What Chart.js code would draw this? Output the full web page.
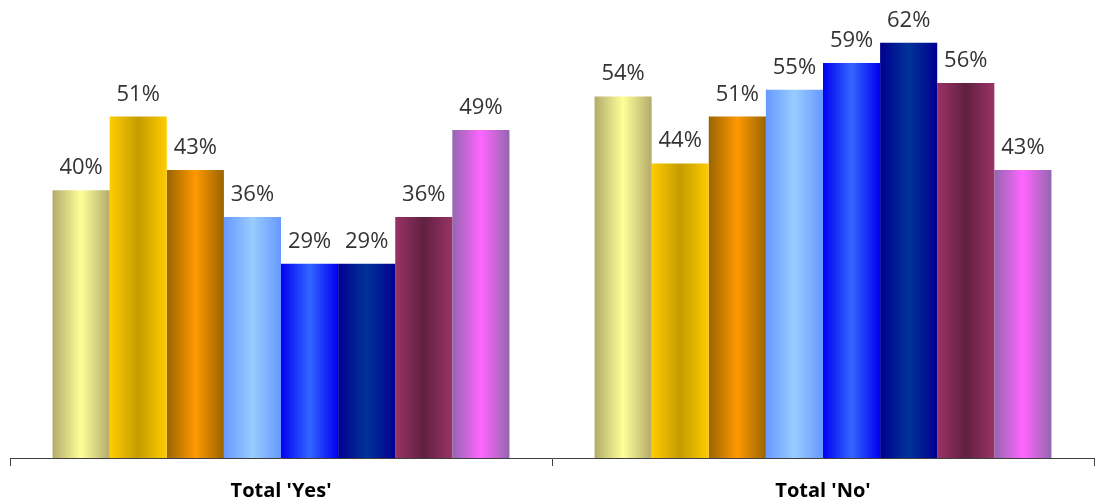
<!DOCTYPE html>
<html>
<head>
<meta charset="utf-8">
<script src="https://cdn.jsdelivr.net/npm/chart.js@4/dist/chart.umd.min.js"></script>
<style>
html,body{margin:0;padding:0;background:#fff;}
#wrap{width:1096px;height:504px;position:relative;}
</style>
</head>
<body>
<div id="wrap"><canvas id="c" width="1096" height="504"></canvas></div>
<script>
const categories = ["Total 'Yes'", "Total 'No'"];
const s1 = [40, 54];
const s2 = [51, 44];
const s3 = [43, 51];
const s4 = [36, 55];
const s5 = [29, 59];
const s6 = [29, 62];
const s7 = [36, 56];
const s8 = [49, 43];
const seriesValues = [s1, s2, s3, s4, s5, s6, s7, s8];
// [edge colour, centre colour] for horizontal gradient
const seriesColors = [
  ['#b3ab6b', '#ffff99'],
  ['#ffcc00', '#c49c00'],
  ['#9a6400', '#ff9900'],
  ['#6699ff', '#99ccff'],
  ['#0000f0', '#3366ff'],
  ['#00008f', '#003399'],
  ['#993366', '#612040'],
  ['#9466b0', '#ff66ff']
];

const gradientPlugin = {
  id: 'grad',
  beforeDatasetsDraw(chart) {
    const ctx = chart.ctx;
    chart.data.datasets.forEach((ds, di) => {
      const meta = chart.getDatasetMeta(di);
      const [edge, centre] = seriesColors[di];
      meta.data.forEach(el => {
        const w = el.width;
        const x0 = el.x - w / 2, x1 = el.x + w / 2;
        const g = ctx.createLinearGradient(x0, 0, x1, 0);
        g.addColorStop(0, edge);
        g.addColorStop(0.5, centre);
        g.addColorStop(1, edge);
        el.options = Object.assign({}, el.options, {backgroundColor: g});
      });
    });
  },
  afterDatasetsDraw(chart) {
    const ctx = chart.ctx;
    ctx.save();
    ctx.font = '22px "Open Sans", "DejaVu Sans", sans-serif';
    ctx.fillStyle = '#333333';
    ctx.textAlign = 'center';
    ctx.textBaseline = 'alphabetic';
    chart.data.datasets.forEach((ds, di) => {
      const meta = chart.getDatasetMeta(di);
      meta.data.forEach((el, i) => {
        ctx.fillText(ds.data[i] + '%', el.x, el.y - 16);
      });
    });
    ctx.restore();
  }
};

new Chart(document.getElementById('c'), {
  type: 'bar',
  data: {
    labels: categories,
    datasets: seriesValues.map((v, i) => ({
      label: 'S' + (i + 1),
      data: v,
      backgroundColor: seriesColors[i][0],
      borderWidth: 0,
      categoryPercentage: 0.843,
      barPercentage: 1.0
    }))
  },
  options: {
    responsive: false,
    animation: false,
    devicePixelRatio: 1,
    layout: {padding: {left: 10, right: 2, top: 0, bottom: -12}},
    plugins: {legend: {display: false}, tooltip: {enabled: false}},
    scales: {
      x: {
        grid: {offset: true, drawOnChartArea: false, drawTicks: true, tickLength: 8, color: '#404040', lineWidth: 1},
        border: {display: true, color: '#404040', width: 1},
        ticks: {
          color: '#000000',
          padding: 13,
          font: {family: '"Open Sans", "DejaVu Sans", sans-serif', size: 20, weight: 'bold'}
        }
      },
      y: {
        display: false,
        min: 0,
        max: 68.4,
        grid: {display: false}
      }
    }
  },
  plugins: [gradientPlugin]
});
</script>
</body>
</html>
